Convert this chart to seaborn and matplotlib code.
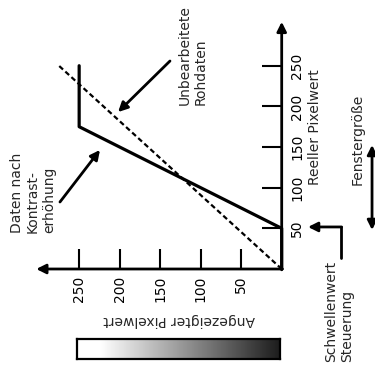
import numpy as np
import pandas as pd
import matplotlib
matplotlib.use("Agg")
import matplotlib.pyplot as plt
import seaborn as sns

# transfer curve: displayed value (x, drawn leftwards) against real value (y)
contrast_display = [0, 0, 250, 250]
contrast_real = [0, 50, 175, 250]
raw_display = [0, 275]
raw_real = [0, 250]
tick_values = [50, 100, 150, 200, 250]
tick_labels = ["50", "100", "150", "200", "250"]


def main():
    sns.set_style("white")
    plt.rcParams["font.family"] = ["DejaVu Sans"]

    fig = plt.figure(figsize=(3.75, 3.68), dpi=100)
    # axes placed so that 0..305 covers the drawn axis arrows
    ax = fig.add_axes([34.6 / 375, 99 / 368, 247.1 / 375, 248 / 368])

    df_c = pd.DataFrame({"display": contrast_display, "real": contrast_real})
    df_r = pd.DataFrame({"display": raw_display, "real": raw_real})
    sns.lineplot(data=df_c, x="display", y="real", sort=False, estimator=None,
                 color="black", lw=2.3, ax=ax, clip_on=False)
    sns.lineplot(data=df_r, x="display", y="real", sort=False, estimator=None,
                 color="black", lw=1.6, ax=ax, clip_on=False)
    ax.lines[1].set_dashes((2.3, 1.4))

    ax.set_xlim(305, 0)
    ax.set_ylim(0, 305)
    for s in ax.spines.values():
        s.set_visible(False)
    ax.set_xlabel("")
    ax.set_ylabel("")

    # axis lines with arrow heads
    arrow = dict(arrowstyle="-|>", lw=2.0, color="black", mutation_scale=14,
                 shrinkA=0, shrinkB=0)
    ax.annotate("", xy=(303, 0), xytext=(-1, 0), arrowprops=arrow, annotation_clip=False)
    ax.annotate("", xy=(0, 304), xytext=(0, -1), arrowprops=arrow, annotation_clip=False)

    # ticks
    ax.set_xticks(tick_values)
    ax.set_xticklabels(tick_labels)
    ax.set_yticks(tick_values)
    ax.set_yticklabels(tick_labels)
    ax.yaxis.tick_right()
    ax.tick_params(axis="both", direction="in", length=14.4, width=1.5,
                   labelsize=10, colors="black")
    ax.tick_params(axis="x", bottom=True, labelrotation=90, pad=5)
    ax.tick_params(axis="y", right=True, left=False, labelrotation=90, pad=6)
    for t in ax.get_yticklabels():
        t.set_verticalalignment("center")

    # axis titles
    ax.text(126.8, -62.7, "Angezeigter Pixelwert", rotation=180, fontsize=10,
            ha="center", va="center")
    ax.text(-41.1, 174.7, "Reeller Pixelwert", rotation=90, fontsize=10,
            ha="center", va="center")

    # annotations
    ax.text(110, 201.7, "Unbearbeitete\nRohdaten", rotation=90, fontsize=10,
            ha="center", va="bottom", multialignment="left")
    ax.annotate("", xy=(202, 193), xytext=(137.9, 255.8), arrowprops=arrow,
                annotation_clip=False)
    ax.text(307, 44.3, "Daten nach\nKontrast-\nerhöhung", rotation=90, fontsize=10,
            ha="center", va="bottom", multialignment="left")
    ax.annotate("", xy=(224.3, 146.4), xytext=(273.7, 82.4), arrowprops=arrow,
                annotation_clip=False)

    ax.text(-94.2, 160, "Fenstergröße", rotation=90, fontsize=10,
            ha="center", va="center")
    ax.annotate("", xy=(-111.5, 48), xytext=(-111.5, 152.5),
                arrowprops=dict(arrowstyle="<|-|>", lw=2.0, color="black",
                                mutation_scale=14, shrinkA=0, shrinkB=0),
                annotation_clip=False)

    ax.text(-70.7, -114.4, "Schwellenwert\nSteuerung", rotation=90, fontsize=10,
            ha="center", va="bottom", multialignment="left")
    ax.plot([-73.2, -73.2], [13.5, 51.7], color="black", lw=2.0, clip_on=False)
    ax.annotate("", xy=(-32.5, 51.7), xytext=(-74, 51.7), arrowprops=arrow,
                annotation_clip=False)

    # grey ramp under the display axis
    cax = fig.add_axes([76.7 / 375, 8.7 / 368, 203.3 / 375, 20 / 368])
    ramp = np.linspace(253, 2, 300)
    grey = 0.1 + 0.9 * np.clip(ramp / 225.0, 0, 1)
    cax.imshow(grey[np.newaxis, :], cmap="gray", vmin=0, vmax=1, aspect="auto")
    cax.set_xticks([])
    cax.set_yticks([])
    for s in cax.spines.values():
        s.set_visible(True)
        s.set_linewidth(1.6)
        s.set_color("black")

    fig.savefig("out.png", dpi=100)
    plt.close(fig)


if __name__ == "__main__":
    main()
